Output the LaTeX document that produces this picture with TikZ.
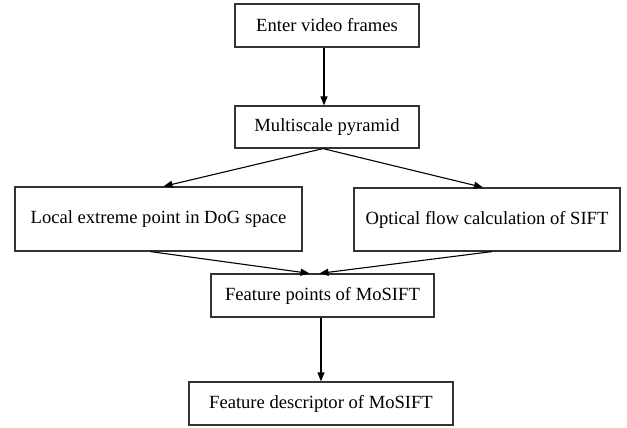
\documentclass[tikz,border=0pt]{standalone}
\usepackage{fontspec}
\setmainfont{Liberation Serif}
\usetikzlibrary{arrows.meta}
\tikzset{
  stepbox/.style={draw=black!80,line width=1.2pt,inner sep=0pt,
    font=\fontsize{18.6}{22}\selectfont},
  flow/.style={-{Triangle[length=9pt,width=7pt]},line width=1.1pt}
}

\begin{document}
\begin{tikzpicture}[x=1pt,y=-1pt]
  \useasboundingbox (0,0) rectangle (627,428);

  % boxes
  \node[stepbox,minimum width=184pt,minimum height=43pt] (enter) at (327,25.5) {Enter video frames};
  \node[stepbox,minimum width=184pt,minimum height=42pt] (pyr) at (327,127) {Multiscale pyramid};
  \node[stepbox,minimum width=287pt,minimum height=64pt] (loc) at (158.5,219) {Local extreme point in DoG space};
  \node[stepbox,minimum width=266pt,minimum height=63pt] (opt) at (487,219.5) {Optical flow calculation of SIFT};
  \node[stepbox,minimum width=223pt,minimum height=43pt] (pts) at (322.5,295.5) {Feature points of MoSIFT};
  \node[stepbox,minimum width=264pt,minimum height=43pt] (desc) at (321,403.5) {Feature descriptor of MoSIFT};

  % arrows
  \draw[flow] ([xshift=-3pt]enter.south) -- ([xshift=-3pt]pyr.north);
  \draw[flow] ([xshift=-4pt]pyr.south) -- ([xshift=5pt]loc.north);
  \draw[flow] ([xshift=-4pt]pyr.south) -- ([xshift=-4pt]opt.north);
  \draw[flow] ([xshift=-8pt]loc.south) -- ([xshift=-13pt]pts.north);
  \draw[flow] ([xshift=5pt]opt.south) -- ([xshift=-3pt]pts.north);
  \draw[flow] ([xshift=-1.5pt]pts.south) -- (desc.north);
\end{tikzpicture}
\end{document}
